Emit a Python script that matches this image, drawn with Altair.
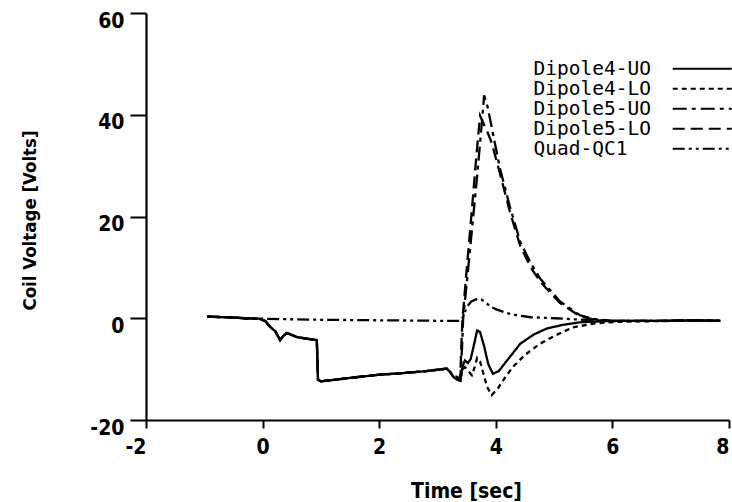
import altair as alt
import pandas as pd

series_names = ["Dipole4-UO", "Dipole4-LO", "Dipole5-UO", "Dipole5-LO", "Quad-QC1"]

# shared early trace of all four dipole coils (time in s, voltage in V)
common_t = [-0.95, -0.6, -0.3, -0.05, 0.05, 0.13, 0.22, 0.30, 0.36, 0.42, 0.5, 0.59,
            0.75, 0.93, 0.95, 1.0, 1.3, 1.6, 2.0, 2.4, 2.8, 3.16, 3.22, 3.27]
common_v = [0.3, 0.2, 0.0, -0.1, -0.6, -1.7, -2.6, -4.3, -3.4, -2.9, -3.3, -3.7,
            -4.0, -4.3, -12.1, -12.4, -12.0, -11.6, -11.1, -10.8, -10.4, -9.9, -10.6, -11.5]

d4uo_t = [3.33, 3.39, 3.43, 3.47, 3.52, 3.57, 3.63, 3.68, 3.73, 3.8, 3.87, 3.95,
          4.05, 4.2, 4.42, 4.65, 4.88, 5.15, 5.44, 5.8, 6.2, 6.8, 7.3, 7.85]
d4uo_v = [-12.0, -12.3, -9.5, -8.3, -8.8, -8.0, -5.0, -2.4, -2.7, -5.5, -9.0, -10.9,
          -10.4, -8.2, -5.0, -3.2, -2.0, -1.3, -0.8, -0.6, -0.5, -0.5, -0.4, -0.5]

d4lo_t = [3.33, 3.39, 3.43, 3.47, 3.53, 3.59, 3.64, 3.68, 3.73, 3.79, 3.85, 3.93,
          4.04, 4.15, 4.29, 4.5, 4.76, 5.0, 5.32, 5.7, 6.1, 6.6, 7.2, 7.85]
d4lo_v = [-12.0, -12.3, -10.0, -9.6, -10.4, -11.2, -9.5, -7.8, -8.5, -11.0, -13.5, -15.1,
          -13.7, -11.8, -9.6, -7.2, -5.0, -3.5, -1.8, -1.0, -0.7, -0.6, -0.5, -0.5]

d5uo_t = [3.33, 3.39, 3.42, 3.44, 3.52, 3.6, 3.68, 3.75, 3.80, 3.86, 3.93, 4.07,
          4.24, 4.42, 4.6, 4.76, 5.1, 5.44, 5.7, 6.0, 6.5, 7.0, 7.5, 7.85]
d5uo_v = [-11.5, -12.1, -6.0, 0.0, 9.0, 18.5, 28.0, 37.0, 43.8, 41.5, 37.5, 29.5,
          22.0, 15.0, 10.8, 7.8, 3.3, 0.6, -0.2, -0.5, -0.5, -0.5, -0.4, -0.5]

d5lo_t = [3.33, 3.39, 3.41, 3.43, 3.5, 3.58, 3.66, 3.73, 3.8, 3.86, 3.93, 4.07,
          4.24, 4.42, 4.6, 4.76, 5.1, 5.44, 5.7, 6.0, 6.5, 7.0, 7.5, 7.85]
d5lo_v = [-11.5, -12.1, -5.0, 0.0, 9.5, 20.0, 31.0, 39.8, 38.0, 36.5, 34.5, 28.5,
          21.0, 14.2, 10.0, 7.2, 3.0, 0.4, -0.3, -0.5, -0.5, -0.5, -0.4, -0.5]

quad_t = [-0.95, -0.5, 0.0, 0.5, 1.0, 1.5, 2.0, 2.5, 3.0, 3.39, 3.44, 3.5, 3.58, 3.68,
          3.75, 3.82, 3.9, 4.0, 4.19, 4.4, 4.6, 5.0, 5.5, 6.0, 6.5, 7.0, 7.5, 7.85]
quad_v = [0.3, 0.1, -0.1, -0.2, -0.3, -0.35, -0.4, -0.45, -0.5, -0.5, 0.3, 2.2, 3.3, 3.8,
          3.7, 3.2, 2.3, 1.8, 1.0, 0.5, 0.2, 0.0, -0.3, -0.5, -0.5, -0.5, -0.4, -0.5]

x_ticks = [-2, 0, 2, 4, 6, 8]
y_ticks = [-20, 0, 20, 40, 60]

# line styles (dash patterns) for each series
dash_patterns = [[1, 0], [5, 4], [14, 5, 4, 5], [12, 6], [12, 4, 3, 4, 3, 4]]

tails = {
    "Dipole4-UO": (d4uo_t, d4uo_v),
    "Dipole4-LO": (d4lo_t, d4lo_v),
    "Dipole5-UO": (d5uo_t, d5uo_v),
    "Dipole5-LO": (d5lo_t, d5lo_v),
}
rows = []
for name, (tt, vv) in tails.items():
    for t, v in zip(common_t + tt, common_v + vv):
        rows.append({"series": name, "t": t, "v": v})
for t, v in zip(quad_t, quad_v):
    rows.append({"series": "Quad-QC1", "t": t, "v": v})
df = pd.DataFrame(rows)

NARROW = "Liberation Sans Narrow, DejaVu Sans Condensed, sans-serif"

# legend sample line drawn to the right of its label (unit-scaled path)
legend_line_shape = "M37.25,0H52"

chart = alt.Chart(df).mark_line(color="black", strokeWidth=2.3).encode(
    x=alt.X("t:Q",
            scale=alt.Scale(domain=[-2, 8], nice=False, zero=False),
            axis=alt.Axis(values=x_ticks, title="Time [sec]", grid=False,
                          labelExpr="'' + datum.value",
                          domainColor="black", domainWidth=2.2,
                          tickColor="black", tickWidth=2, tickSize=8,
                          labelFont=NARROW, labelFontWeight="bold", labelFontSize=21,
                          labelColor="black", labelPadding=8, labelFlush=False,
                          labelAlign={"condition": {"test": "datum.value == 8 || datum.value == -2",
                                                    "value": "right"},
                                      "value": "center"},
                          titleFont=NARROW, titleFontWeight="bold", titleFontSize=21,
                          titleColor="black", titleBaseline="alphabetic",
                          titleX=320, titleY=77)),
    y=alt.Y("v:Q",
            scale=alt.Scale(domain=[-20, 60], nice=False, zero=False),
            axis=alt.Axis(values=y_ticks, title="Coil Voltage [Volts]", grid=False,
                          labelExpr="'' + datum.value",
                          domainColor="black", domainWidth=2.2,
                          tickColor="black", tickWidth=2, tickSize=16,
                          labelFont=NARROW, labelFontWeight="bold", labelFontSize=21,
                          labelColor="black", labelPadding=6, labelOffset=8,
                          titleFont=NARROW, titleFontWeight="bold", titleFontSize=18.5,
                          titleColor="black", titleX=-107, titleY=207)),
    strokeDash=alt.StrokeDash("series:N",
                              scale=alt.Scale(domain=series_names, range=dash_patterns),
                              legend=alt.Legend(title=None, orient="none",
                                                legendX=368, legendY=46,
                                                symbolType=legend_line_shape, symbolSize=64,
                                                symbolStrokeWidth=2, symbolStrokeColor="black",
                                                symbolOffset=0,
                                                labelAlign="left", labelOffset=0,
                                                labelFont="DejaVu Sans Mono", labelFontSize=19.5,
                                                labelColor="black", labelLimit=200,
                                                rowPadding={"expr": "-8"}, padding=0)),
).properties(
    width=583, height=407,
    padding={"left": 146, "top": 13, "right": 3, "bottom": 82},
    autosize=alt.AutoSizeParams(type="none"),
    background="white",
).configure_view(stroke=None)

chart.save("out.html", embed_options={"renderer": "svg", "actions": False})
